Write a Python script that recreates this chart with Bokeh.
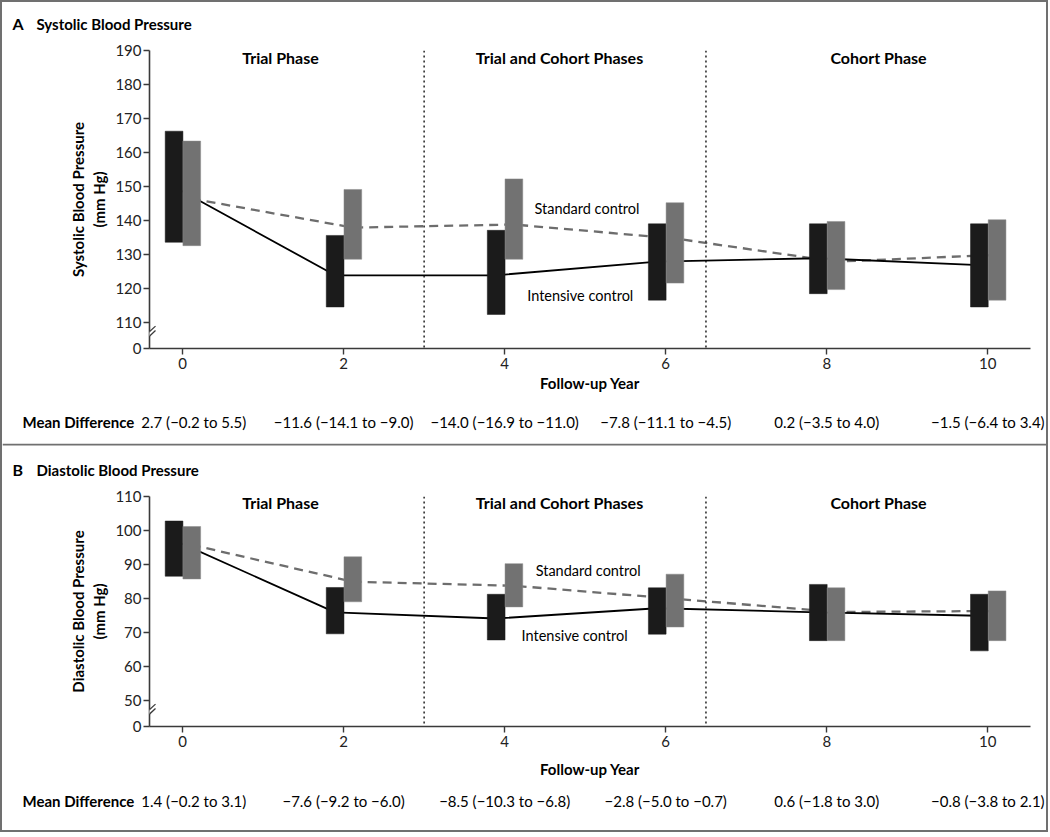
from bokeh.plotting import figure
from bokeh.models import Range1d, FixedTicker, Span, Arrow, PolyAnnotation, ColumnDataSource
from bokeh.layouts import column
from bokeh.embed import file_html
from bokeh.resources import INLINE
from bokeh.core.properties import value

# ---------------- data ----------------
years = [0, 2, 4, 6, 8, 10]

sbp_int_top = [166.3, 135.7, 137.2, 139.1, 139.1, 139.1]
sbp_int_bot = [133.7, 114.7, 112.5, 116.7, 118.6, 114.7]
sbp_std_top = [163.4, 149.2, 152.3, 145.3, 139.8, 140.3]
sbp_std_bot = [132.7, 128.7, 128.7, 121.7, 119.8, 116.7]
sbp_int_mean = [150.0, 124.0, 124.0, 128.0, 129.0, 127.0]
sbp_std_mean = [146.5, 138.0, 138.9, 134.8, 128.0, 130.0]

dbp_int_top = [102.8, 83.3, 81.3, 83.2, 84.2, 81.3]
dbp_int_bot = [86.6, 69.7, 67.9, 69.6, 67.7, 64.7]
dbp_std_top = [101.2, 92.3, 90.3, 87.2, 83.2, 82.3]
dbp_std_bot = [85.8, 79.1, 77.6, 71.7, 67.7, 67.7]
dbp_int_mean = [97.2, 76.0, 74.2, 77.2, 76.0, 75.0]
dbp_std_mean = [95.8, 85.0, 83.8, 80.0, 76.1, 76.4]

sbp_diff = ["2.7 (\u22120.2 to 5.5)", "\u221211.6 (\u221214.1 to \u22129.0)",
            "\u221214.0 (\u221216.9 to \u221211.0)", "\u22127.8 (\u221211.1 to \u22124.5)",
            "0.2 (\u22123.5 to 4.0)", "\u22121.5 (\u22126.4 to 3.4)"]
dbp_diff = ["1.4 (\u22120.2 to 3.1)", "\u22127.6 (\u22129.2 to \u22126.0)",
            "\u22128.5 (\u221210.3 to \u22126.8)", "\u22122.8 (\u22125.0 to \u22120.7)",
            "0.6 (\u22121.8 to 3.0)", "\u22120.8 (\u22123.8 to 2.1)"]

sbp_ticks = [110, 120, 130, 140, 150, 160, 170, 180, 190]
dbp_ticks = [50, 60, 70, 80, 90, 100, 110]

phase_names = ["Trial Phase", "Trial and Cohort Phases", "Cohort Phase"]
phase_bounds = [3, 6.5]
series_names = ["Standard control", "Intensive control"]

# ---------------- layout constants ----------------
FONT = "Lato"
PAD = 2                      # grey frame width around the whole figure
W = 1044                     # inner width (page x 2..1046)
AXIS_LEFT, AXIS_RIGHT = 149, 1030   # page pixels of the x-axis extent
LB = AXIS_LEFT - PAD
RB = PAD + W - AXIS_RIGHT
X0, X1 = -0.41, 10.53
K = (AXIS_RIGHT - AXIS_LEFT) / (X1 - X0)   # px per year
XL = X0 - LB / K
XR = X1 + RB / K
OFF_I, OFF_S, BW = -0.105, 0.115, 0.22
BLACK = "#1b1b1b"
GREY = "#727272"
AX = "#3a3a3a"
FRAME = "#707070"


def cx(page_px):
    return X0 + (page_px - AXIS_LEFT) / K


def text_fig(h):
    f = figure(width=W, height=h, x_range=Range1d(XL, XR), y_range=Range1d(0, h),
               output_backend="svg", toolbar_location=None, frame_align=False,
               min_border=0, min_border_left=0, min_border_right=0,
               min_border_top=0, min_border_bottom=0,
               x_axis_type=None, y_axis_type=None)
    f.grid.visible = False
    f.outline_line_color = None
    f.background_fill_color = "white"
    f.border_fill_color = "white"
    return f


def title_fig(h, letter, title, y_from_top, sep=False):
    f = text_fig(h)
    f.text(x=[cx(12)], y=[h - y_from_top], text=[letter], text_font=value(FONT),
           text_font_style="bold", text_font_size="16px", text_baseline="middle",
           text_color="black")
    f.text(x=[cx(36)], y=[h - y_from_top], text=[title], text_font=value(FONT),
           text_font_style="bold", text_font_size="15px", text_baseline="middle",
           text_color="black")
    if sep:
        f.add_layout(Span(location=h - 1, dimension="width", line_color=FRAME, line_width=2))
    return f


def diff_fig(h, labels, y_from_top):
    f = text_fig(h)
    y = h - y_from_top
    f.text(x=[cx(22)], y=[y], text=["Mean Difference"], text_font=value(FONT),
           text_font_style="bold", text_font_size="15px", text_baseline="middle",
           text_color="black")
    pos = [0.14] + years[1:]
    src = ColumnDataSource(dict(x=pos, y=[y] * len(pos), t=labels))
    f.text(x="x", y="y", text="t", source=src, text_font=value(FONT),
           text_font_size="15px", text_align="center", text_baseline="middle",
           text_color="black")
    return f


def main_fig(height, top, bottom, ymin, ticks, ylabel, it, ib, st, sb, im, sm,
             std_lab, int_lab, head_y, xlab_standoff):
    ymax = ticks[-1]
    p = figure(width=W, height=height, x_range=Range1d(X0, X1), y_range=Range1d(ymin, ymax),
               output_backend="svg", toolbar_location=None,
               min_border_left=LB, min_border_right=RB, min_border_top=top,
               min_border_bottom=bottom)
    p.grid.visible = False
    p.outline_line_color = None
    p.border_fill_color = "white"

    # phase dividers
    for b in phase_bounds:
        p.add_layout(Span(location=b, dimension="height", line_color="black",
                          line_dash="2 3", line_width=1.3))

    xi = [y + OFF_I for y in years]
    xs = [y + OFF_S for y in years]
    p.line(xs, sm, line_color="#6d6d6d", line_width=2.3, line_dash="9 6")
    p.line(xi, im, line_color="black", line_width=1.8)

    p.vbar(x=xi, width=BW, top=it, bottom=ib, fill_color=BLACK, line_color=BLACK, line_width=0.5)
    p.vbar(x=xs, width=BW, top=st, bottom=sb, fill_color=GREY, line_color="#8a8a8a", line_width=0.5)

    # phase headers
    hx = [cx(280), cx(559), cx(878)]
    p.text(x=hx, y=[head_y] * 3, text=phase_names, text_font=value(FONT),
           text_font_style="bold", text_font_size="16px", text_align="center",
           text_baseline="middle", text_color="black")
    # series labels
    p.text(x=[std_lab[0], int_lab[0]], y=[std_lab[1], int_lab[1]], text=series_names,
           text_font=value(FONT), text_font_size="14.5px", text_align="left",
           text_baseline="middle", text_color="black")

    # axes
    xa = p.xaxis[0]
    xa.ticker = FixedTicker(ticks=years)
    xa.axis_label = "Follow-up Year"
    ya = p.yaxis[0]
    ya.ticker = FixedTicker(ticks=[ymin] + ticks)
    ya.major_label_overrides = {ymin: "0"}
    ya.axis_label = ylabel
    for a in (xa, ya):
        a.axis_line_color = AX
        a.axis_line_width = 1.6
        a.major_tick_line_color = AX
        a.major_tick_line_width = 1.4
        a.major_tick_in = 0
        a.major_tick_out = 6
        a.minor_tick_line_color = None
        a.major_label_text_font = FONT
        a.major_label_text_font_size = "15px"
        a.major_label_text_color = "#222222"
        a.axis_label_text_font = FONT
        a.axis_label_text_font_style = "bold"
        a.axis_label_text_font_size = "15px"
        a.axis_label_text_color = "black"
    xa.major_label_standoff = 3
    xa.axis_label_standoff = xlab_standoff
    ya.major_label_standoff = 2
    ya.axis_label_standoff = 4

    # axis break marks
    u = 1.0 / 3.41
    y1, y2 = ymin + 6 * u, ymin + 18 * u
    d = 4.4 * u
    xa0, xa1 = X0 - 7 / K, X0 + 6 / K
    p.add_layout(PolyAnnotation(xs=[xa0, xa1, xa1, xa0], ys=[y1, y2, y2 + d, y1 + d],
                                fill_color="white", fill_alpha=1.0, line_alpha=0))
    for dy in (0, d):
        p.add_layout(Arrow(end=None, start=None, x_start=xa0, y_start=y1 + dy,
                           x_end=xa1, y_end=y2 + dy, line_color=AX, line_width=1.3))
    return p


# ---------------- panel A ----------------
tA = title_fig(36, "A", "Systolic Blood Pressure", 21)
pA = main_fig(362, 12, 52, 102.5, sbp_ticks, "Systolic Blood Pressure\n(mm Hg)",
              sbp_int_top, sbp_int_bot, sbp_std_top, sbp_std_bot, sbp_int_mean, sbp_std_mean,
              (4.37, 143.5), (4.28, 118.1), 188.0, 2)
dA = diff_fig(43, sbp_diff, 21)

# ---------------- panel B ----------------
tB = title_fig(43, "B", "Diastolic Blood Pressure", 26, sep=True)
pB = main_fig(294, 10, 53, 42.5, dbp_ticks, "Diastolic Blood Pressure\n(mm Hg)",
              dbp_int_top, dbp_int_bot, dbp_std_top, dbp_std_bot, dbp_int_mean, dbp_std_mean,
              (4.385, 88.2), (4.21, 69.1), 108.2, 10)
dB = diff_fig(50, dbp_diff, 20)

layout = column(tA, pA, dA, tB, pB, dB, spacing=0,
                styles={"background-color": "white", "padding": "%dpx" % PAD,
                        "box-shadow": "inset 0 0 0 %dpx %s" % (PAD, FRAME)})
open("out.html", "w").write(file_html(layout, INLINE))
